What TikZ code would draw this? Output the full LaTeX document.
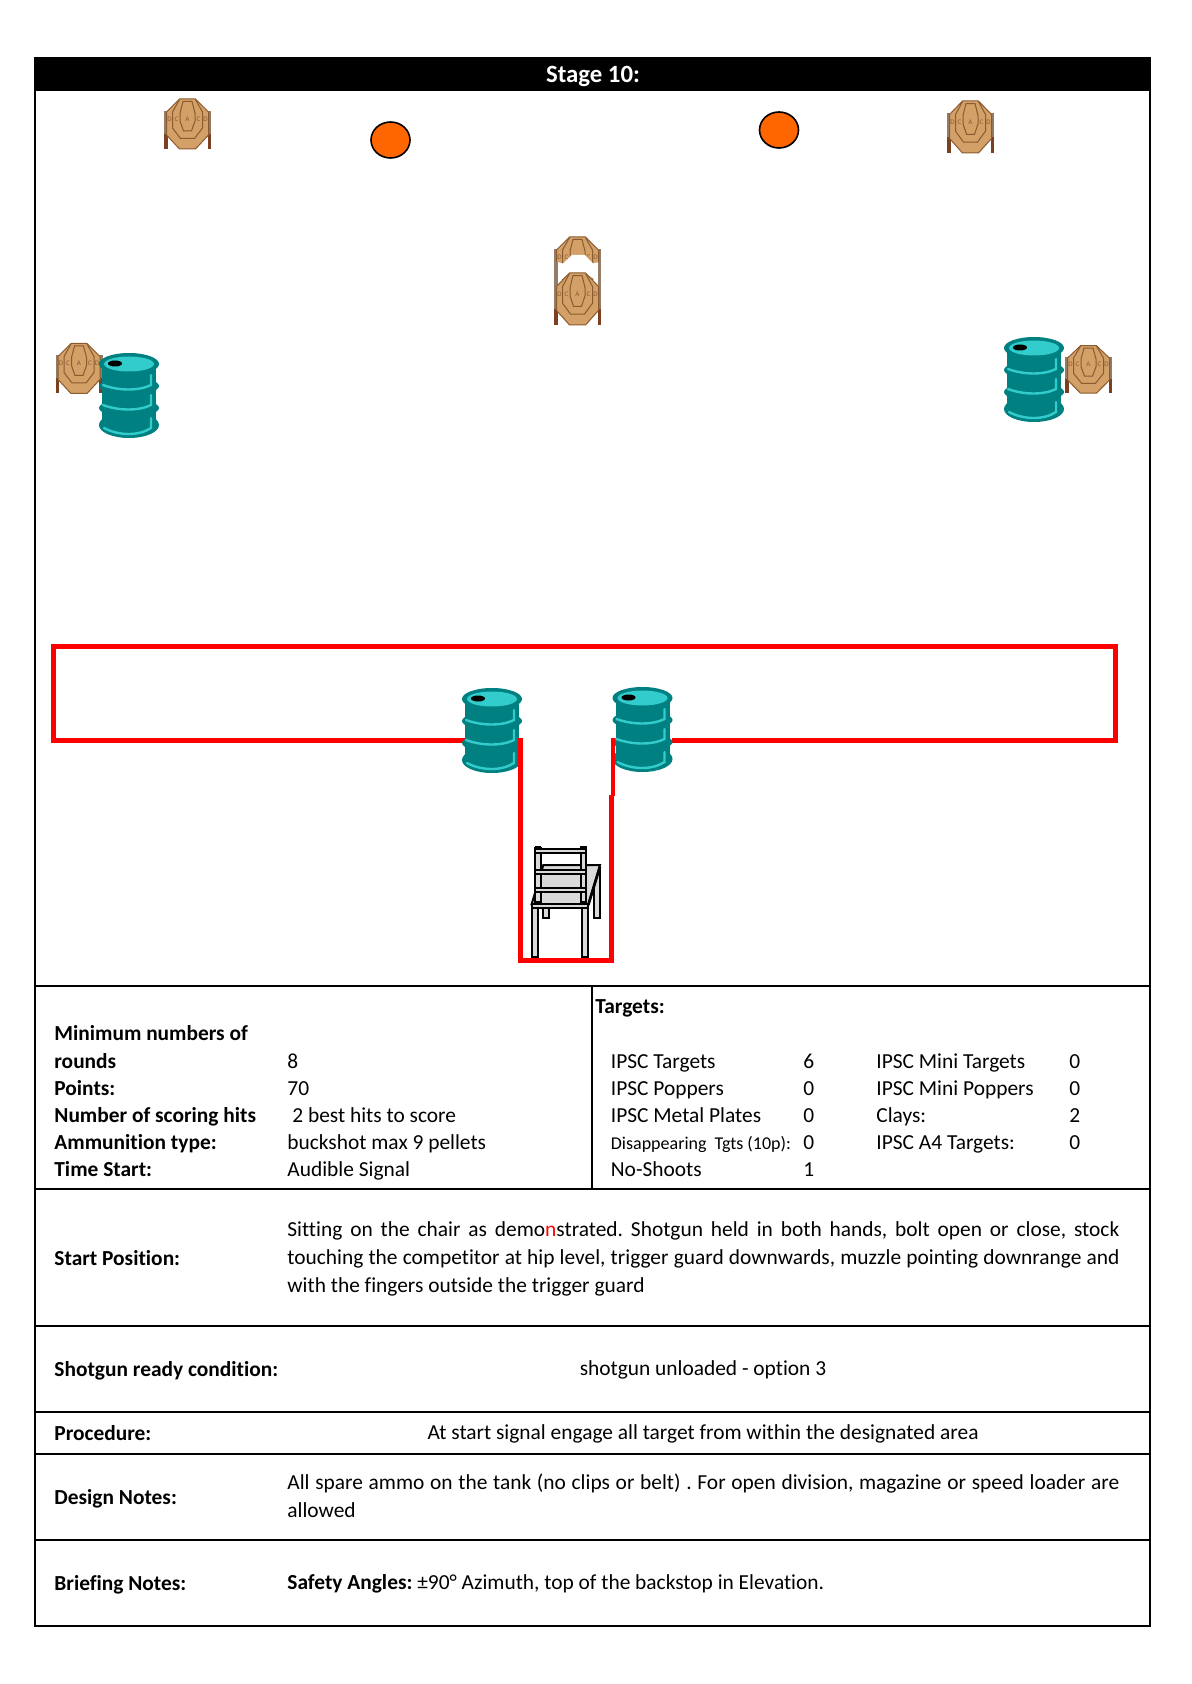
\documentclass[tikz,border=0pt]{standalone}
\usepackage{fontspec}
\setmainfont[Ligatures=NoCommon]{Carlito}
\definecolor{tanfill}{HTML}{D3A067}
\definecolor{tanline}{HTML}{8A5A30}
\definecolor{postc}{HTML}{7A4020}
\definecolor{postg}{HTML}{947C68}
\definecolor{teald}{HTML}{008080}
\definecolor{teall}{HTML}{33CCCC}
\definecolor{clayc}{HTML}{FF6600}
\definecolor{chairc}{HTML}{D9D9D9}
\tikzset{
  x=0.5pt,y=-0.5pt,
  frameline/.style={line width=1pt,black},
  clay/.style={fill=clayc,draw=black,line width=0.8pt},
  lbl/.style={anchor=base west,inner sep=0pt,font=\fontsize{10.7}{12}\selectfont\bfseries},
  val/.style={anchor=base west,inner sep=0pt,font=\fontsize{10.7}{12}\selectfont},
  ctr/.style={anchor=base,inner sep=0pt,font=\fontsize{10.7}{12}\selectfont},
  tletter/.style={inner sep=0pt,text=tanline,font=\fontsize{3.5}{4}\selectfont},
  redl/.style={draw=red,line width=2.5pt,miter limit=10},
  chairp/.style={fill=chairc,draw=black,line width=1pt},
  ipsc/.pic={
    \fill[postg] (-23.5,-13) rectangle (-20,10);
    \fill[postg] (20,-13) rectangle (23.5,10);
    \fill[postc] (-23.5,10) rectangle (-20,25);
    \fill[postc] (20,10) rectangle (23.5,25);
    \filldraw[fill=tanfill,draw=tanline,line width=0.5pt]
      (-8,-25)--(8,-25)--(21,-12)--(21,11)--(8,25)--(-8,25)--(-21,11)--(-21,-12)--cycle;
    \draw[tanline,line width=0.5pt] (-8,-24.5)--(-15,-12)--(-15,4)--(-7,14.5)--(7,14.5)--(15,4)--(15,-12)--(8,-24.5);
    \draw[tanline,line width=0.5pt] (-4.5,-22.5)--(4.5,-22.5)--(7.5,-11)--(7.5,-3)--(4,7)--(-4,7)--(-7.5,-3)--(-7.5,-11)--cycle;
    \node[tletter] (a) at (0,-5) {A};
    \node[tletter] (c1) at (-11,-5) {C};
    \node[tletter] (c2) at (11,-5) {C};
    \node[tletter] (d1) at (-18,-5) {D};
    \node[tletter] (d2) at (18,-5) {D};
  },
  barrel/.pic={
    \fill[teald] (-27,11) rectangle (27,72);
    \fill[teald] (0,11) ellipse [x radius=30,y radius=11];
    \fill[teald] (0,33) ellipse [x radius=30,y radius=9];
    \fill[teald] (0,55) ellipse [x radius=30,y radius=9];
    \fill[teald] (0,72) ellipse [x radius=30,y radius=13];
    \fill[teall] (0,11) ellipse [x radius=25,y radius=7.5];
    \fill[black] (-14,10.5) ellipse [x radius=7,y radius=3];
    \draw[teall,line width=1.2pt,line cap=round] (22,22)--(22,32) .. controls (10,38) and (-10,38) .. (-26,32);
    \draw[teall,line width=1.2pt,line cap=round] (22,42)--(22,52) .. controls (10,58) and (-10,58) .. (-26,52);
    \draw[teall,line width=1.2pt,line cap=round] (22,65)--(22,75) .. controls (10,83) and (-10,83) .. (-25,75);
  }
}
\begin{document}
\begin{tikzpicture}
\frenchspacing
\useasboundingbox (0,0) rectangle (1191,1684);
% Frame
\fill[black] (35,58) rectangle (1150,91);
\draw[frameline] (35,58) rectangle (1150,1626);
\draw[frameline] (35,986)--(1150,986);
\draw[frameline] (35,1189)--(1150,1189);
\draw[frameline] (35,1326)--(1150,1326);
\draw[frameline] (35,1411.5)--(1150,1411.5);
\draw[frameline] (35,1453.5)--(1150,1453.5);
\draw[frameline] (35,1539.5)--(1150,1539.5);
\draw[frameline] (592,986)--(592,1189);
\node[anchor=base,inner sep=0pt,text=white,font=\fontsize{12.4}{14}\selectfont\bfseries] (title) at (593,82.5) {Stage 10:};
% Targets
\pic (t1) at (187.5,124) {ipsc};
\pic[yscale=1.04] (t2) at (970.5,127) {ipsc};
\pic (t3) at (79,368.5) {ipsc};
\pic[yscale=0.95] (t4) at (1088.5,369.5) {ipsc};
\pic (t5) at (577.5,262) {ipsc};
\fill[white] (557,262)--(563,263.5)--(572,255)--(585,255)--(593,263.5)--(600,262)--(600,283)--(585,273)--(570,273)--(557,283)--cycle;
\fill[postg] (554,262) rectangle (557.5,290);
\fill[postg] (597.5,262) rectangle (601,290);
\pic[yscale=1.04] (t6) at (577.5,299) {ipsc};
% Clays
\draw[clay] (390.5,140) ellipse [x radius=19.5,y radius=18];
\draw[clay] (779,130) ellipse [x radius=19.5,y radius=18];
% Red area
\draw[redl] (522,740)--(53.5,740)--(53.5,646)--(1115,646)--(1115,740)--(672,740);
% Barrels
\pic at (129,353) {barrel};
\pic at (1034,337) {barrel};
\pic at (492,688) {barrel};
\pic at (642.5,687) {barrel};
\draw[redl] (520,738)--(520,960)--(611.7,960)--(611.7,795);
\draw[draw=red,line width=2pt] (612.7,738)--(612.7,796);
% Chair
\begin{scope}[shift={(450,670)},x=0.16667pt,y=-0.16667pt]
  \draw[chairp] (280,713) rectangle (297,745);
  \draw[chairp] (432,600) rectangle (450,745);
  \draw[chairp] (245,702)--(280,585)--(450,585)--(415,702)--cycle;
  \draw[black,line width=1.3pt] (415,705)--(450,590);
  \draw[chairp] (245,702) rectangle (415,713);
  \draw[chairp] (247,713) rectangle (265,860);
  \draw[chairp] (397,713) rectangle (415,860);
  \draw[chairp] (256,533) rectangle (272,695);
  \draw[chairp] (392,533) rectangle (408,695);
  \fill[black] (254,528) rectangle (274,540);
  \fill[black] (390,528) rectangle (410,540);
  \draw[chairp] (256,537) rectangle (408,549);
  \draw[chairp] (256,601) rectangle (408,613);
  \draw[chairp] (256,655) rectangle (408,667);
\end{scope}
% Left table
\node[lbl] (l1) at (54,1040.5) {Minimum numbers of};
\node[lbl] (l2) at (54,1068.5) {rounds};
\node[val] (v2) at (287,1068.5) {8};
\node[lbl] (l3) at (54,1095.5) {Points:};
\node[val] (v3) at (287,1095.5) {70};
\node[lbl] (l4) at (54,1122) {Number of scoring hits};
\node[val] (v4) at (292,1122) {2 best hits to score};
\node[lbl] (l5) at (54,1149.5) {Ammunition type:};
\node[val] (v5) at (287,1149.5) {buckshot max 9 pellets};
\node[lbl] (l6) at (54,1176.5) {Time Start:};
\node[val] (v6) at (287,1176.5) {Audible Signal};
% Right table
\node[lbl] (tg) at (595,1013) {Targets:};
\node[val] (a1) at (610.5,1068.5) {IPSC Targets};
\node[val] (b1) at (803,1068.5) {6};
\node[val] (a2) at (610.5,1095.5) {IPSC Poppers};
\node[val] (b2) at (803,1095.5) {0};
\node[val] (a3) at (610.5,1122) {IPSC Metal Plates};
\node[val] (b3) at (803,1122) {0};
\node[val,font=\fontsize{9}{10}\selectfont] (a4) at (610.5,1149.5) {Disappearing\ \ Tgts (10p):};
\node[val] (b4) at (803,1149.5) {0};
\node[val] (a5) at (610.5,1176.5) {No-Shoots};
\node[val] (b5) at (803,1176.5) {1};
\node[val] (c1) at (876,1068.5) {IPSC Mini Targets};
\node[val] (d1) at (1069,1068.5) {0};
\node[val] (c2) at (876,1095.5) {IPSC Mini Poppers};
\node[val] (d2) at (1069,1095.5) {0};
\node[val] (c3) at (876,1122) {Clays:};
\node[val] (d3) at (1069,1122) {2};
\node[val] (c4) at (876,1149.5) {IPSC A4 Targets:};
\node[val] (d4) at (1069,1149.5) {0};
% Lower rows
\node[lbl] (sp) at (54,1265.5) {Start Position:};
\node[val] (sp1) at (287,1236.5) {\makebox[416pt][s]{Sitting on the chair as demo{\color{red}n}strated. Shotgun held in both hands, bolt open or close, stock}};
\node[val] (sp2) at (287,1264.5) {\makebox[416pt][s]{touching the competitor at hip level, trigger guard downwards, muzzle pointing downrange and}};
\node[val] (sp3) at (287,1292.5) {with the fingers outside the trigger guard};
\node[lbl] (sr) at (54,1376) {Shotgun ready condition:};
\node[ctr] (srv) at (703,1375) {shotgun unloaded - option 3};
\node[lbl] (pr) at (54,1440.5) {Procedure:};
\node[ctr] (prv) at (703,1439) {At start signal engage all target from within the designated area};
\node[lbl] (dn) at (54,1504.5) {Design Notes:};
\node[val] (dn1) at (287,1489.5) {\makebox[416pt][s]{All spare ammo on the tank (no clips or belt) . For open division, magazine or speed loader are}};
\node[val] (dn2) at (287,1517) {allowed};
\node[lbl] (bn) at (54,1590.5) {Briefing Notes:};
\node[val] (bnv) at (287,1589) {\textbf{Safety Angles:} ±90° Azimuth, top of the backstop in Elevation.};
\end{tikzpicture}
\end{document}
